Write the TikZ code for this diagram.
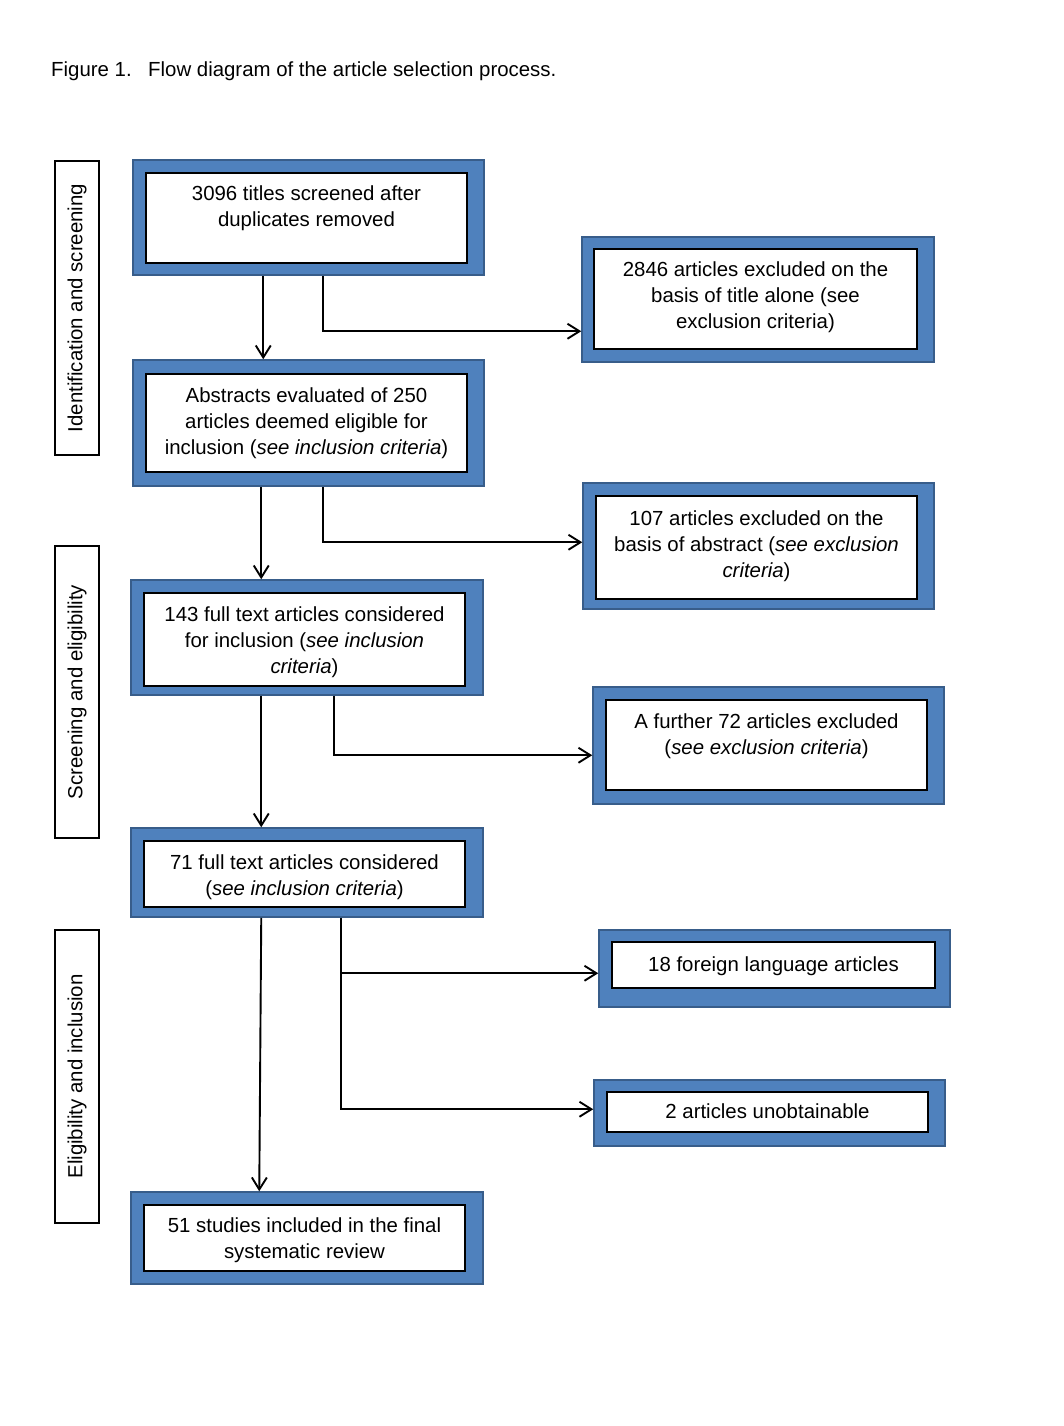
\documentclass[tikz,border=0pt]{standalone}
\usepackage{fontspec}
\setmainfont{Liberation Sans}
\usetikzlibrary{arrows.meta}
\definecolor{ofblue}{HTML}{4F81BD}
\definecolor{ofdark}{HTML}{385D8A}
\newcommand{\bt}[4]{\parbox[c][#2pt][t]{#1pt}{\centering\rule{0pt}{#3pt}#4}}
\begin{document}
\begin{tikzpicture}[x=1pt,y=-1pt,
  frame/.style={fill=ofblue,draw=ofdark,line width=1.5pt,inner sep=0pt},
  inbox/.style={fill=white,draw=black,line width=2pt,inner sep=0pt},
  sidebox/.style={draw=black,line width=1.5pt,inner sep=0pt,rotate=90,minimum height=44pt},
  arr/.style={draw=black,line width=1.9pt,-{Straight Barb[length=12pt,width=15pt,line width=1.9pt]}},
  font=\fontsize{20.4pt}{26pt}\selectfont]
\useasboundingbox (0,0) rectangle (1064,1426);

\node[anchor=base west,inner sep=0pt] (title) at (51,77) {\makebox[97pt][l]{Figure 1.}Flow diagram of the article selection process.};

\node[sidebox,minimum width=294pt] (s1) at (77,308) {Identification and screening};
\node[sidebox,minimum width=292pt] (s2) at (77,692) {Screening and eligibility};
\node[sidebox,minimum width=293pt] (s3) at (77,1076.5) {Eligibility and inclusion};

\node[frame,minimum width=351pt,minimum height=115pt] (f1) at (308.5,217.5) {};
\node[inbox] (t1) at (306.5,218) {\bt{321}{90}{27}{3096 titles screened after\\duplicates removed}};

\node[frame,minimum width=352pt,minimum height=125pt] (f2) at (758,299.5) {};
\node[inbox] (t2) at (755.5,299) {\bt{323}{100}{27}{2846 articles excluded on the\\basis of title alone (see\\exclusion criteria)}};

\node[frame,minimum width=351pt,minimum height=126pt] (f3) at (308.5,423) {};
\node[inbox] (t3) at (306.5,423) {\bt{321}{98}{28}{Abstracts evaluated of 250\\articles deemed eligible for\\inclusion (\textit{see inclusion criteria})}};

\node[frame,minimum width=351pt,minimum height=126pt] (f4) at (758.5,546) {};
\node[inbox] (t4) at (756.5,547.5) {\bt{321}{103}{29}{107 articles excluded on the\\basis of abstract (\textit{see exclusion}\\\textit{criteria})}};

\node[frame,minimum width=352pt,minimum height=115pt] (f5) at (307,637.5) {};
\node[inbox] (t5) at (304.5,639.5) {\bt{321}{93}{28}{143 full text articles considered\\for inclusion (\textit{see inclusion}\\\textit{criteria})}};

\node[frame,minimum width=351pt,minimum height=117pt] (f6) at (768.5,745.5) {};
\node[inbox] (t6) at (766.5,745) {\bt{321}{90}{28}{A further 72 articles excluded\\(\textit{see exclusion criteria})}};

\node[frame,minimum width=352pt,minimum height=89pt] (f7) at (307,872.5) {};
\node[inbox] (t7) at (304.5,874) {\bt{321}{66}{28}{71 full text articles considered\\(\textit{see inclusion criteria})}};

\node[frame,minimum width=351pt,minimum height=77pt] (f8) at (774.5,968.5) {};
\node[inbox] (t8) at (773.5,965) {\bt{323}{46}{29}{18 foreign language articles}};

\node[frame,minimum width=351pt,minimum height=66pt] (f9) at (769.5,1113) {};
\node[inbox] (t9) at (767.5,1112) {\bt{321}{40}{26}{2 articles unobtainable}};

\node[frame,minimum width=352pt,minimum height=92pt] (f10) at (307,1238) {};
\node[inbox] (t10) at (304.5,1238) {\bt{321}{66}{27}{51 studies included in the final\\systematic review}};

\draw[arr] ([xshift=131pt]f1.south west) -- ([xshift=131pt]f3.north west);
\draw[arr] ([xshift=191pt]f1.south west) |- ([yshift=-95pt]f2.north west);
\draw[arr] ([xshift=129pt]f3.south west) -- ([xshift=131pt]f5.north west);
\draw[arr] ([xshift=191pt]f3.south west) |- ([yshift=-60pt]f4.north west);
\draw[arr] ([xshift=131pt]f5.south west) -- ([xshift=131pt]f7.north west);
\draw[arr] ([xshift=204pt]f5.south west) |- ([yshift=-69pt]f6.north west);
\draw[arr] ([xshift=131pt]f7.south west) -- ([xshift=129pt]f10.north west);
\draw[arr] ([xshift=211pt]f7.south west) |- ([yshift=-44pt]f8.north west);
\draw[arr] ([xshift=211pt]f7.south west) |- ([yshift=-30pt]f9.north west);
\end{tikzpicture}
\end{document}
